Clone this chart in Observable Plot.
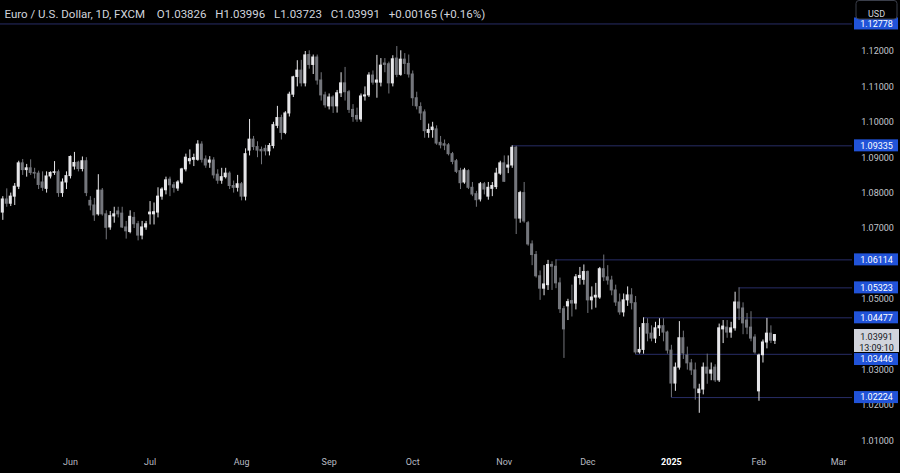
<!DOCTYPE html>
<html><head><meta charset="utf-8">
<script src="https://cdn.jsdelivr.net/npm/d3@7"></script>
<script src="https://cdn.jsdelivr.net/npm/@observablehq/plot@0.6"></script>
<style>
html,body{margin:0;padding:0;background:#000;}
#chart{width:900px;height:473px;overflow:hidden;}
</style></head><body><div id="chart"></div>
<script>
// ---- data ----
const startDate = "2024-05-09";
const holidays = ["2024-12-25", "2025-01-01"];
const opens = [
1.0745,1.0782,1.0770,1.0790,1.0818,1.0884,1.0865,1.0870,1.0857,1.0855,
1.0830,1.0812,1.0847,1.0857,1.0859,1.0800,1.0830,1.0848,1.0875,1.0886,
1.0868,1.0890,1.0778,1.0765,1.0740,1.0807,1.0740,1.0703,1.0734,1.0748,
1.0742,1.0703,1.0690,1.0730,1.0712,1.0680,1.0703,1.0740,1.0740,1.0745,
1.0790,1.0808,1.0838,1.0822,1.0813,1.0830,1.0867,1.0890,1.0894,1.0894,
1.0937,1.0895,1.0886,1.0892,1.0852,1.0835,1.0845,1.0855,1.0820,1.0815,
1.0825,1.0790,1.0920,1.0951,1.0930,1.0922,1.0925,1.0918,1.0933,1.0990,
1.1012,1.0970,1.1025,1.1078,1.1128,1.1146,1.1110,1.1190,1.1162,1.1183,
1.1118,1.1076,1.1045,1.1070,1.1045,1.1082,1.1110,1.1085,1.1035,1.1018,
1.1008,1.1073,1.1076,1.1132,1.1112,1.1112,1.1166,1.1164,1.1110,1.1180,
1.1134,1.1177,1.1165,1.1135,1.1068,1.1043,1.1028,1.0970,1.0978,1.0980,
1.0942,1.0938,1.0935,1.0910,1.0890,1.0862,1.0830,1.0862,1.0815,1.0797,
1.0782,1.0825,1.0790,1.0812,1.0817,1.0855,1.0884,1.0872,1.0878,1.0928,
1.0728,1.0800,1.0715,1.0655,1.0625,1.0565,1.0530,1.0540,1.0597,1.0592,
1.0545,1.0472,1.0480,1.0495,1.0488,1.0560,1.0555,1.0577,1.0497,1.0505,
1.0505,1.0585,1.0562,1.0553,1.0525,1.0491,1.0463,1.0497,1.0511,1.0489,
1.0350,1.0357,1.0430,1.0403,1.0389,1.0418,1.0424,1.0406,1.0355,1.0262,
1.0307,1.0390,1.0341,1.0319,1.0299,1.0235,1.0245,1.0307,1.0290,1.0307,
1.0271,1.0415,1.0420,1.0406,1.0418,1.0491,1.0474,1.0440,1.0420,1.0392,
1.0240,1.0342,1.0378,1.0403,1.03826];
const highs = [
1.0790,1.0812,1.0800,1.0827,1.0890,1.0895,1.0881,1.0894,1.0870,1.0862,
1.0860,1.0860,1.0860,1.0889,1.0865,1.0840,1.0860,1.0905,1.0915,1.0890,
1.0902,1.0900,1.0790,1.0785,1.0852,1.0813,1.0750,1.0748,1.0760,1.0760,
1.0760,1.0720,1.0750,1.0745,1.0720,1.0720,1.0720,1.0776,1.0772,1.0815,
1.0815,1.0845,1.0845,1.0830,1.0835,1.0870,1.0910,1.0922,1.0910,1.0948,
1.0945,1.0905,1.0903,1.0900,1.0866,1.0870,1.0870,1.0860,1.0834,1.0850,
1.0830,1.0925,1.1008,1.0960,1.0945,1.0930,1.0935,1.0940,1.1000,1.1045,
1.1020,1.1030,1.1085,1.1130,1.1174,1.1175,1.1200,1.1202,1.1190,1.1190,
1.1140,1.1085,1.1080,1.1075,1.1090,1.1140,1.1155,1.1090,1.1050,1.1040,
1.1080,1.1100,1.1140,1.1145,1.1189,1.1180,1.1180,1.1170,1.1188,1.1214,
1.1202,1.1194,1.1190,1.1145,1.1085,1.1055,1.1035,1.0995,1.1000,1.0990,
1.0960,1.0950,1.0940,1.0915,1.0895,1.0870,1.0870,1.0866,1.0830,1.0805,
1.0830,1.0830,1.0830,1.0830,1.0870,1.0890,1.0905,1.0905,1.09335,1.0932,
1.0805,1.0830,1.0720,1.0665,1.0635,1.0580,1.0595,1.0610,1.0606,1.06114,
1.0560,1.0480,1.0500,1.0540,1.0570,1.0590,1.0597,1.0580,1.0535,1.0545,
1.0590,1.0625,1.0595,1.0565,1.0540,1.0515,1.0515,1.0535,1.0530,1.0508,
1.0420,1.04477,1.0445,1.0425,1.0435,1.0445,1.0445,1.0410,1.0370,1.0320,
1.0437,1.0410,1.0365,1.0330,1.0320,1.0260,1.0320,1.0345,1.0320,1.0315,
1.0430,1.0440,1.0440,1.0435,1.0520,1.05323,1.0490,1.0460,1.0465,1.0400,
1.0345,1.0385,1.0446,1.0425,1.03996];
const lows = [
1.0723,1.0760,1.0762,1.0765,1.0810,1.0850,1.0845,1.0850,1.0840,1.0810,
1.0805,1.0800,1.0840,1.0850,1.0788,1.0788,1.0810,1.0840,1.0865,1.0860,
1.0860,1.0790,1.0750,1.0720,1.0735,1.0735,1.0668,1.0695,1.0715,1.0730,
1.0700,1.0670,1.0685,1.0700,1.0665,1.0668,1.0695,1.0710,1.0710,1.0730,
1.0780,1.0795,1.0790,1.0800,1.0805,1.0825,1.0860,1.0880,1.0875,1.0890,
1.0885,1.0870,1.0870,1.0840,1.0825,1.0825,1.0840,1.0810,1.0800,1.0803,
1.0778,1.0778,1.0905,1.0920,1.0900,1.0880,1.0905,1.0905,1.0925,1.0982,
1.0950,1.0965,1.1015,1.1070,1.1100,1.1100,1.1100,1.1150,1.1135,1.1105,
1.1060,1.1040,1.1035,1.1025,1.1026,1.1070,1.1060,1.1025,1.1000,1.1000,
1.1000,1.1060,1.1070,1.1105,1.1068,1.1100,1.1140,1.1080,1.1100,1.1126,
1.1130,1.1135,1.1125,1.1045,1.1035,1.1005,1.0955,1.0955,1.0955,1.0935,
1.0925,1.0920,1.0905,1.0880,1.0855,1.0810,1.0825,1.0810,1.0790,1.0760,
1.0775,1.0795,1.0780,1.0790,1.0810,1.0850,1.0830,1.0855,1.0870,1.0683,
1.0715,1.0715,1.0650,1.0595,1.0560,1.0497,1.0510,1.0525,1.0525,1.0530,
1.0460,1.0333,1.0440,1.0450,1.0470,1.0540,1.0540,1.0460,1.0470,1.0475,
1.0500,1.0550,1.0540,1.0510,1.0480,1.0455,1.0450,1.0480,1.0470,1.03446,
1.0345,1.0345,1.0380,1.0380,1.0375,1.0395,1.0380,1.0345,1.02224,1.0240,
1.0300,1.0330,1.0300,1.0285,1.0215,1.0178,1.0230,1.0260,1.0270,1.0265,
1.0265,1.0375,1.0390,1.0390,1.0410,1.0440,1.0400,1.0400,1.0380,1.0345,
1.0212,1.0320,1.0360,1.0375,1.03723];
const closes = [
1.0782,1.0770,1.0790,1.0818,1.0884,1.0865,1.0870,1.0857,1.0855,1.0823,
1.0815,1.0847,1.0857,1.0859,1.0800,1.0830,1.0848,1.0902,1.0885,1.0868,
1.0890,1.0800,1.0765,1.0737,1.0807,1.0740,1.0702,1.0735,1.0740,1.0740,
1.0703,1.0692,1.0733,1.0712,1.0680,1.0703,1.0712,1.0745,1.0746,1.0790,
1.0810,1.0836,1.0822,1.0815,1.0830,1.0867,1.0900,1.0896,1.0899,1.0937,
1.0894,1.0878,1.0892,1.0850,1.0835,1.0845,1.0855,1.0820,1.0815,1.0825,
1.0790,1.0910,1.0951,1.0930,1.0920,1.0918,1.0918,1.0933,1.0992,1.1012,
1.0970,1.1025,1.1078,1.1127,1.1146,1.1110,1.1189,1.1162,1.1183,1.1118,
1.1076,1.1048,1.1070,1.1045,1.1082,1.1110,1.1085,1.1035,1.1015,1.1008,
1.1073,1.1076,1.1132,1.1112,1.1118,1.1160,1.1162,1.1110,1.1178,1.1134,
1.1177,1.1165,1.1135,1.1068,1.1045,1.1025,1.0975,1.0978,1.0985,1.0940,
1.0935,1.0934,1.0910,1.0888,1.0860,1.0828,1.0864,1.0815,1.0796,1.0780,
1.0825,1.0810,1.0815,1.0820,1.0855,1.0884,1.0832,1.0878,1.0928,1.0728,
1.0800,1.0720,1.0655,1.0625,1.0565,1.0530,1.0542,1.0597,1.0592,1.0545,
1.0472,1.0415,1.0492,1.0488,1.0562,1.0566,1.0577,1.0497,1.0505,1.0510,
1.0585,1.0562,1.0553,1.0525,1.0491,1.0463,1.0497,1.0511,1.0489,1.0350,
1.0357,1.0430,1.0403,1.0389,1.0418,1.0424,1.0406,1.0355,1.0262,1.0307,
1.0390,1.0347,1.0319,1.0299,1.0248,1.0245,1.0307,1.0290,1.0299,1.0271,
1.0418,1.0423,1.0406,1.0418,1.0491,1.0474,1.0432,1.0420,1.0389,1.0350,
1.0341,1.0378,1.0403,1.0383,1.03991];
const levelPrices = [1.12778, 1.09335, 1.06114, 1.05323, 1.04477, 1.03446, 1.02224];
const levelStarts = [null, "2024-11-05", "2024-11-20", "2025-01-27", "2024-12-20", "2024-12-18", "2025-01-02"];
const yTicks = [1.01, 1.02, 1.03, 1.04, 1.05, 1.06, 1.07, 1.08, 1.09, 1.10, 1.11, 1.12];
const symbolName = "Euro / U.S. Dollar, 1D, FXCM";
const countdown = "13:09:10";
const currency = "USD";

// ---- derived ----
const fmtDay = d3.utcFormat("%Y-%m-%d");
const days = [];
for (let d = new Date(startDate + "T00:00:00Z"); days.length < 216; d = new Date(d.getTime() + 86400000)) {
  const wd = d.getUTCDay();
  if (wd === 0 || wd === 6) continue;
  if (holidays.includes(fmtDay(d))) continue;
  days.push(d);
}
const candles = opens.map((o, i) => ({i, open: o, high: highs[i], low: lows[i], close: closes[i], up: closes[i] >= o}));
const last = candles[candles.length - 1];
const xMin = -0.578, xMax = 213.5;
const yMin = 1.008701, yMax = 1.134407, plotH = 445;
const px = p => (yMax - p) / (yMax - yMin) * plotH;
// current-price box spans 5.5px above to 17.5px below the last close
const curTop = px(last.close) - 5.5, curBottom = px(last.close) + 17.5;
const levels = levelPrices.map((p, k) => {
  const top = px(p) - 6, bottom = px(p) + 6;
  let shift = 0;
  if (bottom > curTop && top < curBottom) shift = bottom - curTop < curBottom - top ? (curTop - 1) - bottom : (curBottom + 1) - top;
  return {price: p, shift, start: levelStarts[k] == null ? xMin : days.findIndex(d => fmtDay(d) === levelStarts[k])};
});
const monthTicks = [];
for (let i = 1; i < days.length; i++) {
  if (days[i].getUTCMonth() !== days[i - 1].getUTCMonth() && i <= xMax - 1) {
    const m = days[i].getUTCMonth();
    monthTicks.push({i, label: m === 0 ? String(days[i].getUTCFullYear()) : d3.utcFormat("%b")(days[i]), year: m === 0});
  }
}
// price-axis ticks hidden under a price label (as in the reference) are not drawn
const covered = p => Math.abs(p - last.close) < 0.0025 || levelPrices.some(q => Math.abs(p - q) < 0.0018);
const shownTicks = yTicks.filter(p => !covered(p));
const f5 = d3.format(".5f");
const change = last.close - last.open;
const header = `${symbolName}\u2003O${f5(last.open)}\u2002 H${f5(last.high)}\u2002 L${f5(last.low)}\u2002 C${f5(last.close)}\u2002 ${change >= 0 ? "+" : ""}${f5(change)} (${change >= 0 ? "+" : ""}${(change / last.open * 100).toFixed(2)}%)`;

const UP = "#e6e6e9", DOWN = "#74767c", LINE = "#282d66", BLUE = "#2153d8";

const labelMarks = [];
for (const s of [...new Set(levels.map(d => d.shift))]) {
  const group = levels.filter(d => d.shift === s);
  labelMarks.push(
    Plot.rect(group, {y1: "price", y2: "price", insetTop: -6 + s, insetBottom: -6 - s, insetLeft: 854, insetRight: -46, fill: BLUE}),
    Plot.text(group, {y: "price", text: d => f5(d.price), frameAnchor: "right", textAnchor: "middle", dx: 24, dy: s, fill: "#ffffff", fontSize: 9})
  );
}

const chart = Plot.plot({
  width: 900, height: 473,
  marginLeft: 0, marginRight: 48, marginTop: 0, marginBottom: 28,
  style: {background: "#000", fontFamily: "Roboto, 'Open Sans', sans-serif", overflow: "visible"},
  x: {domain: [xMin, xMax], axis: null},
  y: {domain: [yMin, yMax], axis: null},
  marks: [
    Plot.ruleY(levels, {y: "price", x1: "start", x2: xMax, stroke: LINE, strokeWidth: 1}),
    Plot.ruleX(candles, {filter: d => d.up, x: "i", y1: "low", y2: "high", stroke: UP, strokeWidth: 1}),
    Plot.ruleX(candles, {filter: d => !d.up, x: "i", y1: "low", y2: "high", stroke: DOWN, strokeWidth: 1}),
    Plot.rect(candles, {filter: d => d.up, x1: d => d.i - 0.38, x2: d => d.i + 0.38, y1: "open", y2: "close", fill: UP, insetTop: -0.5, insetBottom: -0.5}),
    Plot.rect(candles, {filter: d => !d.up, x1: d => d.i - 0.38, x2: d => d.i + 0.38, y1: "open", y2: "close", fill: DOWN, insetTop: -0.5, insetBottom: -0.5}),
    Plot.text(shownTicks, {y: d => d, text: d => f5(d), frameAnchor: "right", textAnchor: "middle", dx: 25, fill: "#c3c6ce", fontSize: 9}),
    Plot.text(monthTicks, {filter: d => !d.year, x: "i", text: "label", frameAnchor: "bottom", dy: 19, fill: "#b8bbc3", fontSize: 9}),
    Plot.text(monthTicks, {filter: d => d.year, x: "i", text: "label", frameAnchor: "bottom", dy: 19, fill: "#ffffff", fontSize: 9, fontWeight: "bold"}),
    Plot.rect([last], {y1: "close", y2: "close", insetTop: -5.5, insetBottom: -17.5, insetLeft: 854, insetRight: -47, fill: "#d1d4dc"}),
    Plot.text([last], {y: "close", text: d => f5(d.close), frameAnchor: "right", textAnchor: "middle", dx: 24, dy: 2.5, fill: "#131722", fontSize: 9}),
    Plot.text([last], {y: "close", text: () => countdown, frameAnchor: "right", textAnchor: "middle", dx: 24, dy: 13, fill: "#131722", fontSize: 9}),
    ...labelMarks,
    Plot.rect([0], {insetLeft: 856, insetRight: -45, insetTop: 0.5, insetBottom: 426, rx: 3, fill: "#000", stroke: "#3a3e4a"}),
    Plot.text([currency], {text: d => d, frameAnchor: "top-right", textAnchor: "middle", dx: 24, dy: 10, fill: "#d1d4dc", fontSize: 9}),
    Plot.text([header], {text: d => d, frameAnchor: "top-left", dx: 4, dy: 9.5, textAnchor: "start", fill: "#d1d4dc", fontSize: 11.5})
  ]
});
document.getElementById("chart").appendChild(chart);
</script>
</body></html>
